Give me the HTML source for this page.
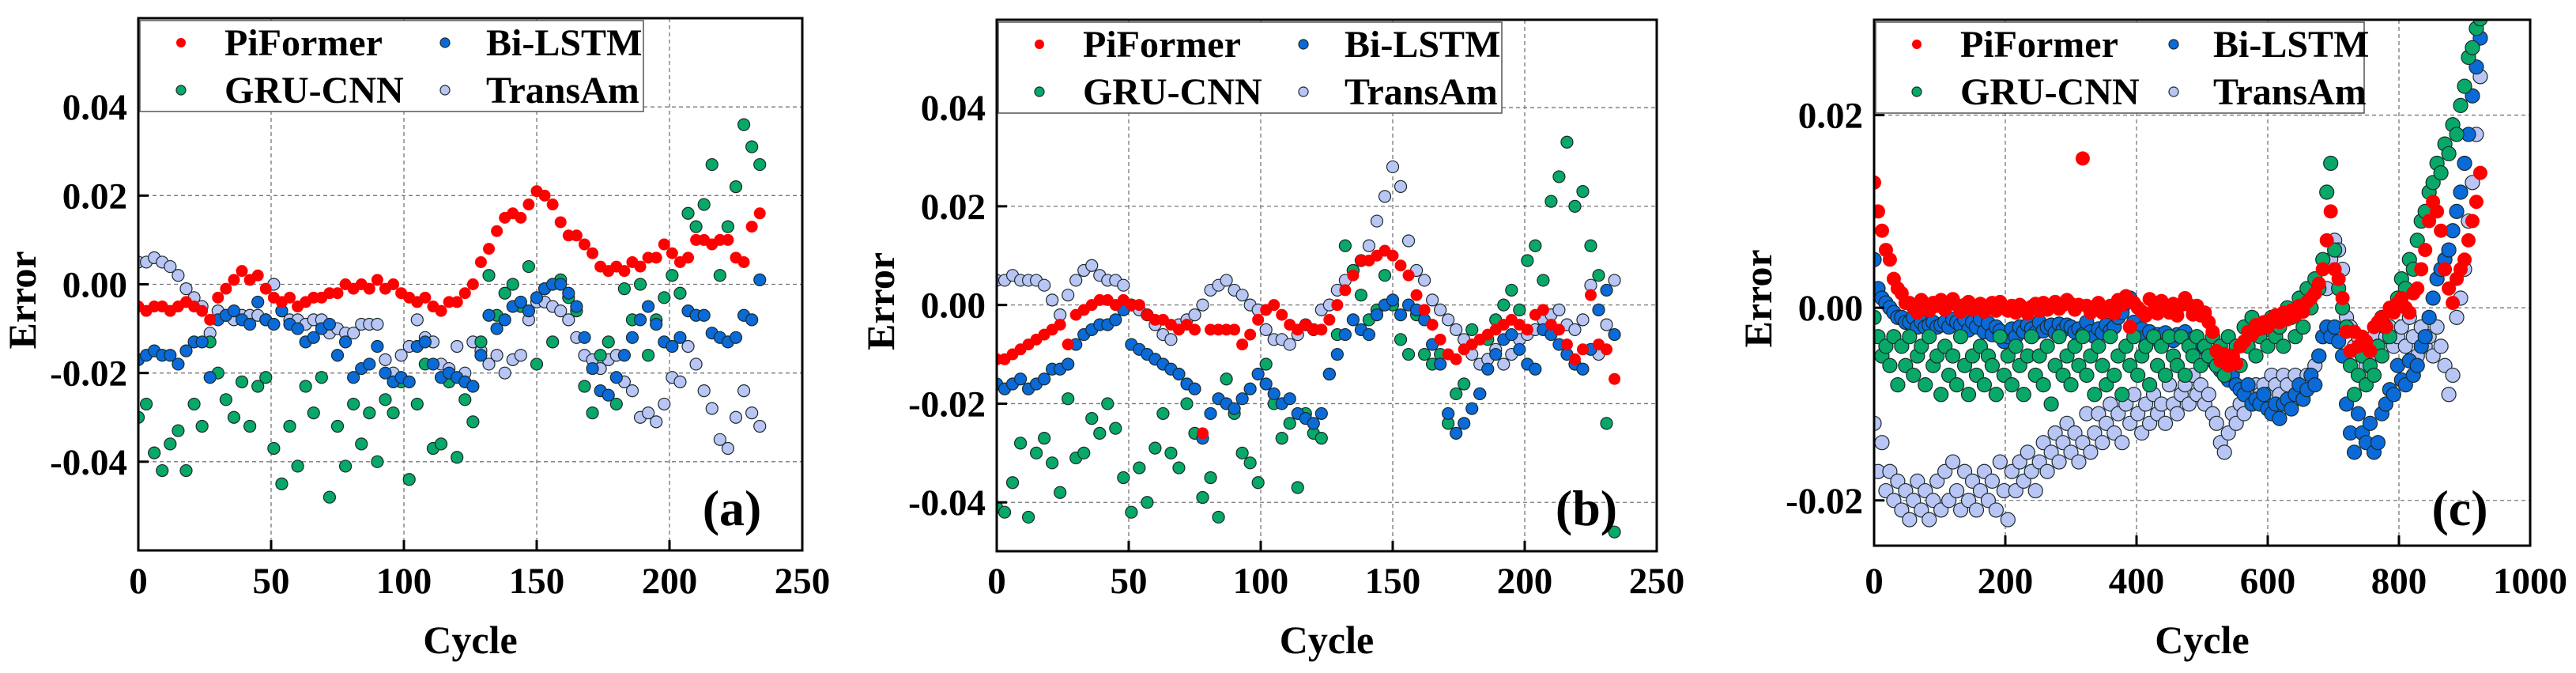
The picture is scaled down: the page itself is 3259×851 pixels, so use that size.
<!DOCTYPE html>
<html><head><meta charset="utf-8"><style>
html,body{margin:0;padding:0;background:#fff;}
svg{display:block;}
text{font-family:"Liberation Serif",serif;font-weight:bold;fill:#000;}
</style></head><body>
<svg id="chart" width="3259" height="851" viewBox="0 0 3259 851" xmlns="http://www.w3.org/2000/svg"></svg>
<script>
// ---- Data (error values in units of 1e-3) ----
const seriesNames = ["PiFormer","Bi-LSTM","GRU-CNN","TransAm"];
const stepA = 3, stepB = 3, stepC = 6;
const piformerA = [-5,-6,-5,-5,-6,-5,-4,-5,-6,-8,-3,-1,1,3,1,2,-1,-3,-4,-3,-5,-4,-3,-3,-2,-2,0,-1,0,-1,1,-1,0,-2,-3,-4,-3,-5,-6,-4,-4,-2,0,5,8,12,15,16,15,18,21,20,18,14,11,11,9,7,4,3,4,3,5,4,6,6,9,7,5,6,10,10,9,10,10,6,5,13,16];
const bilstmA = [-17,-16,-15,-16,-16,-18,-15,-13,-13,-21,-8,-7,-6,-8,-9,-4,-8,-9,-6,-9,-10,-13,-12,-10,-9,-16,-13,-21,-19,-18,-14,-20,-22,-21,-22,-14,-13,-18,-21,-20,-21,-22,-23,-16,-7,-10,-8,-5,-4,-6,-3,-1,0,0,-2,-5,-12,-19,-24,-25,-21,-16,-12,-8,-5,-9,-13,-14,-12,-6,-7,-7,-11,-12,-13,-12,-7,-8,1];
const grucnnA = [-30,-27,-38,-42,-36,-33,-42,-27,-32,-13,-20,-26,-30,-22,-32,-23,-21,-37,-45,-32,-41,-23,-29,-21,-48,-32,-41,-27,-36,-29,-40,-26,-29,-22,-44,-27,-18,-37,-36,-22,-39,-26,-31,-13,2,-7,-2,0,-5,4,-18,-1,-13,1,-3,-6,-23,-29,-16,-13,-27,-1,-8,0,-16,-8,-3,2,-2,16,13,18,27,2,13,22,36,31,27];
const transamA = [5,5,6,5,4,2,-1,-3,-5,-11,-6,-7,-8,-7,-7,-7,-8,0,-6,-8,-8,-9,-8,-8,-11,-10,-11,-11,-9,-9,-9,-17,-20,-16,-14,-8,-12,-13,-18,-19,-14,-20,-13,-15,-18,-16,-20,-17,-16,-8,-4,-4,-5,-6,-8,-12,-16,-17,-19,-17,-16,-22,-24,-30,-29,-31,-27,-21,-22,-14,-18,-24,-28,-35,-37,-30,-24,-29,-32];

const piformerB = [-11,-11,-10,-9,-8,-7,-6,-5,-4,-8,-2,-1,0,1,1,0,1,0,0,-2,-3,-3,-4,-5,-4,-5,-26,-5,-5,-5,-5,-8,-6,-3,-1,0,-2,-4,-5,-4,-5,-5,-3,0,3,6,9,9,10,11,10,8,6,2,-1,-4,-7,-10,-11,-9,-8,-7,-6,-5,-4,-3,-4,-5,-2,-1,-4,-5,-8,-11,-9,2,-8,-9,-15];
const bilstmB = [-16,-17,-16,-15,-17,-16,-15,-13,-13,-12,-8,-6,-5,-4,-4,-3,-1,-8,-9,-10,-11,-12,-13,-14,-16,-17,-27,-22,-19,-20,-21,-19,-17,-14,-16,-18,-20,-19,-22,-23,-24,-22,-14,-10,-6,-3,-5,-6,-2,0,1,-2,0,-1,-3,-8,-12,-22,-26,-24,-21,-18,-13,-10,-7,-6,-9,-12,-13,-5,-6,-8,-10,-12,-13,-9,-1,3,-6];
const grucnnB = [-41,-42,-36,-28,-43,-30,-27,-32,-38,-19,-31,-30,-23,-26,-20,-25,-35,-42,-33,-40,-29,-22,-30,-33,-20,-26,-39,-35,-43,-15,-22,-30,-32,-36,-12,-20,-27,-24,-37,-22,-26,-27,-14,-6,12,7,2,-3,-1,6,0,-7,-10,-2,-10,-12,-10,-24,-18,-16,-5,-18,-7,-3,0,3,-1,9,12,5,21,26,33,20,23,12,6,-24,-46];
const transamB = [5,5,6,5,5,5,4,1,-2,2,5,7,8,6,5,5,4,0,-1,-2,-4,-6,-7,-4,-3,-2,0,3,4,5,3,2,0,-1,-5,-7,-7,-8,-6,-4,-5,-1,0,3,5,7,9,12,17,22,28,24,13,7,5,1,-1,-3,-5,-7,-10,-12,-11,-9,-12,-10,-7,-6,-5,-3,-2,-1,-4,-5,-3,4,-10,-4,5];

const piformerC = [13,10,8,6,5,3,2,1.5,0.5,0.5,0,-0.5,0.8,0.3,-0.3,0.5,0.2,0.8,-0.2,0.4,0.9,0.3,-0.4,0.3,0.6,-0.2,0.1,0.4,-0.4,0.2,0.5,-0.3,0.6,0.1,-0.3,0.2,-0.5,0.3,-0.2,-0.6,0.1,0.4,-0.3,0.5,-0.2,0.2,0.6,-0.1,0.3,0.8,0.4,-0.2,0.3,15.5,0.2,-0.5,0.1,0.5,-0.5,-0.3,0.2,-0.6,0.8,0.3,1.2,-2,0.5,0,-0.4,-0.8,0.9,-0.3,-0.6,0.7,0.2,-0.5,0.4,-0.8,0.3,1.0,0.3,-0.7,0.2,-0.8,-0.5,-1.5,-2.5,-4.5,-5.5,-4.8,-6,-5,-5.8,-4,-3.5,-2.5,-2.8,-1.8,-2.2,-1.5,-2,-1.2,-0.8,-1.5,-0.5,-1.2,-0.3,-0.8,0.2,-0.4,0.6,1,1.5,2.5,4,7,10,4,3,1,-2.5,-4.5,-2.5,-4,-3,-3.5,-4.5,-2,-1.5,-1,-2,0,-0.5,0.5,1,0,-0.5,1.5,2,4,6,9,11,10,8,4,2,0.5,3,4,5,7,9,11,14];
const bilstmC = [5,2,1,0.5,0,-0.5,-1,-1,-1.5,-1.5,-1,-2,-1.5,-2,-1.8,-1.5,-2,-1.8,-1.5,-2,-1.2,-1.5,-1.8,-1.2,-2.3,-1.5,-2,-1.2,-2.5,-1.6,-2.8,-2,-2.4,-3.5,-3,-2.2,-3,-2,-2.5,-1.8,-2.2,-2.6,-1.5,-2.4,-2,-1.8,-2.6,-1.7,-2.3,-1.8,-2,-2.5,-2.2,-2.8,-1.5,-2.5,-3,-2.2,-2.6,-1.8,-2.4,-2,-1,-0.5,0.5,1,-1.5,-2.8,-2.2,-3,-2.5,-3.2,-2.8,-3.5,-2.6,-3,-3.4,-2.8,-3,-2.5,-3.5,-3.2,-3.8,-4,-4.2,-5,-5.5,-6,-6.5,-7,-7.5,-7,-8,-8.5,-9,-8,-10,-9.5,-10,-9,-10.5,-11,-10,-11.5,-10,-9.5,-10.5,-9,-8,-9.5,-8.5,-7,-8,-5,-3,-2,-3,-2,-3.5,-5,-10,-13,-15,-11,-13,-14,-12,-15,-14,-11,-10,-8.5,-9,-6,-7.5,-8,-5.5,-7,-6,-4,-3,-1,1,3,4,5,6,8,10,12,15,18,22,25,28];
const grucnnC = [-1,-3,-5,-4,-6,-3,-8,-4,-6,-3,-7,-5,-4,-8,-3,-6,-5,-9,-4,-7,-5,-8,-3,-6,-9,-5,-7,-4,-8,-5,-6,-9,-3,-7,-5,-8,-4,-6,-9,-5,-3,-7,-5,-8,-4,-10,-6,-3,-7,-5,-8,-4,-6,-3,-7,-5,-9,-4,-6,-8,-3,-7,-5,-9,-4,-6,-3,-7,-5,-4,-8,-3,-6,-4,-7,-3,-5,-6,-3,-7,-4,-5,-3,-6,-4,-5,-3,-6,-4,-7,-3,-5,-4,-6,-2,-4,-1,-5,-3,-2,-4,-1,-3,-2,-4,0,-1,-3,1,-2,2,0,3,2,5,12,15,6,2,0,-2,-6,-9,-7,-5,-8,-6,-7,-4,-5,-2,-3,0,1,3,2,5,4,7,9,10,12,13,15,14,17,16,19,18,21,23,26,27,29,30];
const transamC = [-12,-17,-14,-19,-17,-20,-18,-21,-19,-22,-20,-18,-21,-19,-22,-20,-18,-21,-17,-20,-16,-19,-21,-17,-20,-18,-21,-19,-17,-20,-18,-21,-16,-19,-22,-17,-19,-16,-18,-15,-17,-19,-16,-14,-17,-15,-13,-16,-14,-12,-15,-13,-16,-14,-11,-15,-13,-11,-14,-12,-10,-13,-11,-14,-10,-12,-9,-11,-13,-10,-12,-9,-11,-10,-12,-8,-10,-11,-9,-8,-10,-7,-9,-8,-10,-9,-11,-12,-14,-15,-13,-11,-12,-10,-11,-9,-10,-8,-9,-8,-9,-7,-8,-9,-7,-8,-10,-7,-9,-8,-7,-8,-6,-5,-3,2,5,7,6,4,-1,-2,-4,-3,-5,-6,-5,-3,-4,-1,-3,-2,-4,-3,-2,-4,-1,-3,-5,-2,-4,-3,-5,-2,-4,-6,-9,-7,-1,1,4,9,13,18,24];

const xTicksAB = [0,50,100,150,200,250];
const xTicksC = [0,200,400,600,800,1000];
const yTicksAB = [-0.04,-0.02,0.00,0.02,0.04];
const yTicksC = [-0.02,0.00,0.02];

const colors = {"PiFormer":"#ff0000","Bi-LSTM":"#0a6ad8","GRU-CNN":"#07a868","TransAm":"#b9c5f4"};
const NS = "http://www.w3.org/2000/svg";
const svg = document.getElementById('chart');
function mk(tag, attrs, parent){const e=document.createElementNS(NS,tag);for(const k in attrs)e.setAttribute(k,attrs[k]);(parent||svg).appendChild(e);return e;}

const panels = [
 {id:'a',L:175,R:1015,T:23,B:696,xmin:0,xmax:250,ymin:-0.06,ymax:0.06,xt:xTicksAB,yt:yTicksAB,step:stepA,r:7.5,
  data:{"TransAm":transamA,"GRU-CNN":grucnnA,"Bi-LSTM":bilstmA,"PiFormer":piformerA}},
 {id:'b',L:1261,R:2096,T:25,B:697,xmin:0,xmax:250,ymin:-0.0499,ymax:0.0578,xt:xTicksAB,yt:yTicksAB,step:stepB,r:7.5,
  data:{"TransAm":transamB,"GRU-CNN":grucnnB,"Bi-LSTM":bilstmB,"PiFormer":piformerB}},
 {id:'c',L:2371,R:3201,T:25,B:690,xmin:0,xmax:1000,ymin:-0.0247,ymax:0.0299,xt:xTicksC,yt:yTicksC,step:stepC,r:9,
  data:{"TransAm":transamC,"Bi-LSTM":bilstmC,"GRU-CNN":grucnnC,"PiFormer":piformerC}}
];
const defs = mk('defs',{});
panels.forEach(p=>{
  const g = mk('g',{});
  
  
  const xs = v=>p.L+(v-p.xmin)/(p.xmax-p.xmin)*(p.R-p.L);
  const ys = v=>p.B-(v-p.ymin)/(p.ymax-p.ymin)*(p.B-p.T);
  const cp = mk('clipPath',{id:'clip-'+p.id},defs);
  mk('rect',{x:p.L,y:p.T,width:p.R-p.L,height:p.B-p.T},cp);
  p.xt.forEach(t=>{ if(t===p.xmin||t===p.xmax) return;
    const l=mk('line',{x1:xs(t),x2:xs(t),y1:p.T,y2:p.B,stroke:'#777','stroke-width':1.3,'stroke-dasharray':'5,4'},g);
     });
  p.yt.forEach(t=>{
    const l=mk('line',{x1:p.L,x2:p.R,y1:ys(t),y2:ys(t),stroke:'#777','stroke-width':1.3,'stroke-dasharray':'5,4'},g);
     });
  const pg = mk('g',{'clip-path':'url(#clip-'+p.id+')'},g);
   
  Object.keys(p.data).forEach(name=>{
    const arr=p.data[name];
    const sg=mk('g',{},pg);
    
    
    arr.forEach((v,i)=>{
      const c=mk('circle',{cx:xs(i*p.step),cy:ys(v/1000),r:p.r,fill:colors[name],
        stroke:name==='PiFormer'?'none':'#1a2a2a','stroke-width':1.2},sg);
      
      
    });
  });
  const fr=mk('rect',{x:p.L,y:p.T,width:p.R-p.L,height:p.B-p.T,fill:'none',stroke:'#000','stroke-width':3},g);
   
  p.xt.forEach(t=>{
    mk('line',{x1:xs(t),x2:xs(t),y1:p.B,y2:p.B-13,stroke:'#000','stroke-width':3},g);
    const tx=mk('text',{x:xs(t),y:750,'font-size':47,'text-anchor':'middle'},g);
    tx.textContent=String(t);
     
  });
  p.yt.forEach(t=>{
    mk('line',{x1:p.L,x2:p.L+13,y1:ys(t),y2:ys(t),stroke:'#000','stroke-width':3},g);
    const tx=mk('text',{x:p.L-14,y:ys(t)+16,'font-size':47,'text-anchor':'end'},g);
    tx.textContent=t.toFixed(2);
     
  });
  const xl=mk('text',{x:(p.L+p.R)/2,y:826,'font-size':50,'text-anchor':'middle'},g);
  xl.textContent='Cycle';  
  const ymid=(p.T+p.B)/2+20;
  const yl=mk('text',{x:p.L-130,y:ymid,'font-size':50,'text-anchor':'middle',transform:'rotate(-90 '+(p.L-130)+' '+ymid+')'},g);
  yl.textContent='Error';  
  const pl=mk('text',{x:p.R-89,y:664,'font-size':64,'text-anchor':'middle'},g);
  pl.textContent='('+p.id+')';  
  const lg=mk('g',{},g);
   
  mk('rect',{x:p.L+2,y:p.T+3,width:p.id==='c'?618:637,height:115,fill:'#fff',stroke:'#555','stroke-width':1.5},lg);
  const items=[["PiFormer",0,0],["Bi-LSTM",1,0],["GRU-CNN",0,1],["TransAm",1,1]];
  const col2m = p.id==='c'?379:388, col2t = p.id==='c'?429:440;
  items.forEach(([n,cx,ry])=>{
    const e=mk('g',{},lg);
     
    const yy=p.T+31+ry*60;
    mk('circle',{cx:p.L+(cx?col2m:54),cy:yy,r:6,fill:colors[n],stroke:n==='PiFormer'?'none':'#1a2a2a','stroke-width':1.2},e);
    const t=mk('text',{x:p.L+(cx?col2t:109),y:yy+16,'font-size':48},e);
    t.textContent=n;
  });
});
</script>
</body></html>
